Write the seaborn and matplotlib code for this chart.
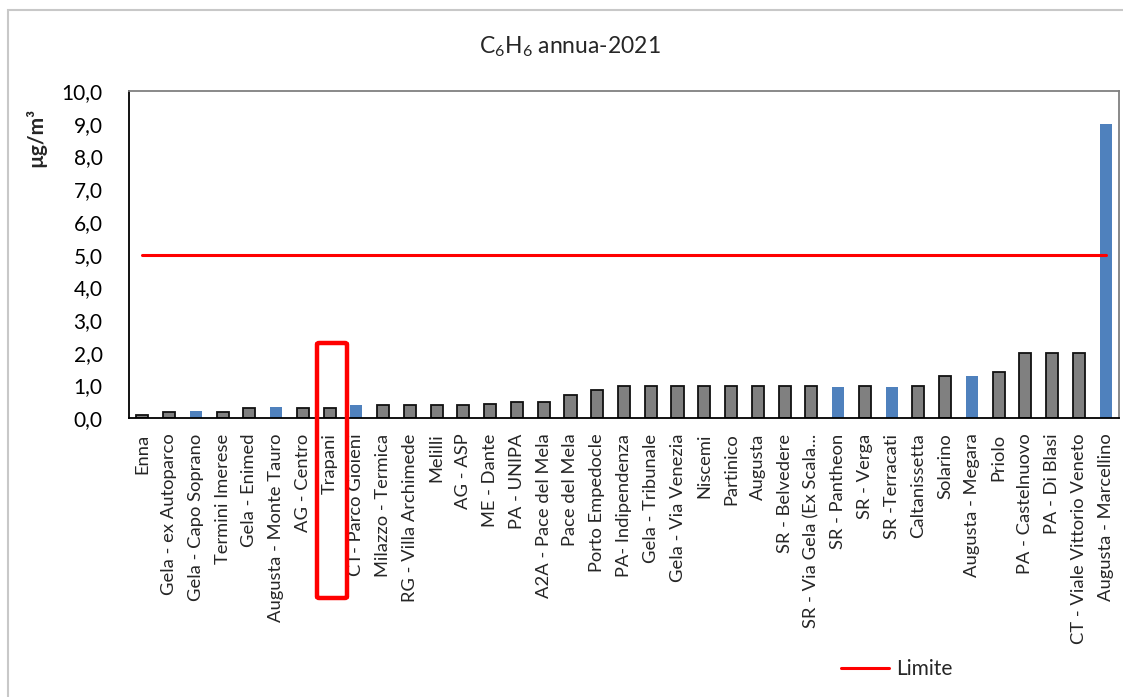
import numpy as np
import pandas as pd
import matplotlib
matplotlib.use("Agg")
import matplotlib.pyplot as plt
from matplotlib.patches import Rectangle, FancyBboxPatch
from matplotlib.ticker import FuncFormatter
import seaborn as sns

# dati (C6H6 media annua 2021, µg/m3)
stazioni = [
    "Enna", "Gela - ex Autoparco", "Gela - Capo Soprano", "Termini Imerese",
    "Gela - Enimed", "Augusta - Monte Tauro", "AG - Centro", "Trapani",
    "CT- Parco Gioieni", "Milazzo - Termica", "RG - Villa Archimede", "Melilli",
    "AG - ASP", "ME - Dante", "PA - UNIPA", "A2A - Pace del Mela",
    "Pace del Mela", "Porto Empedocle", "PA- Indipendenza", "Gela - Tribunale",
    "Gela - Via Venezia", "Niscemi", "Partinico", "Augusta",
    "SR - Belvedere", "SR - Via Gela (Ex Scala...", "SR - Pantheon", "SR - Verga",
    "SR -Terracati", "Caltanissetta", "Solarino", "Augusta - Megara",
    "Priolo", "PA - Castelnuovo", "PA - Di Blasi", "CT - Viale Vittorio Veneto",
    "Augusta - Marcellino",
]
valori = [
    0.1, 0.2, 0.23, 0.2, 0.3, 0.35, 0.3, 0.3,
    0.4, 0.4, 0.4, 0.4, 0.4, 0.45, 0.5, 0.5,
    0.7, 0.85, 1.0, 1.0, 1.0, 1.0, 1.0, 1.0,
    1.0, 1.0, 0.97, 1.0, 0.97, 1.0, 1.3, 1.28,
    1.4, 2.0, 2.0, 2.0, 9.0,
]
# stazioni in blu vs grigio
tipo = [
    "g", "g", "b", "g", "g", "b", "g", "g",
    "b", "g", "g", "g", "g", "g", "g", "g",
    "g", "g", "g", "g", "g", "g", "g", "g",
    "g", "g", "b", "g", "b", "g", "g", "b",
    "g", "g", "g", "g", "b",
]
limite = [5.0] * len(stazioni)

GRIGIO = "#808080"
BLU = "#4F81BD"

sns.set_style("white")
plt.rcParams["font.family"] = ["Lato", "DejaVu Sans"]
plt.rcParams["mathtext.fontset"] = "custom"
plt.rcParams["mathtext.rm"] = "Lato"
plt.rcParams["mathtext.it"] = "Lato"

df = pd.DataFrame({"stazione": stazioni, "valore": valori, "tipo": tipo})

fig = plt.figure(figsize=(11.23, 6.97), dpi=100)
ax = fig.add_axes([129 / 1123, 1 - 418.3 / 697, 990 / 1123, 327.3 / 697])

sns.barplot(data=df, x="stazione", y="valore", hue="tipo", order=stazioni,
            palette={"g": GRIGIO, "b": BLU}, dodge=False, width=0.45,
            legend=False, ax=ax, saturation=1)
for p in ax.patches:
    fc = matplotlib.colors.to_hex(p.get_facecolor())
    if fc.lower() == GRIGIO.lower():
        p.set_edgecolor("#111111")
        p.set_linewidth(1.3)
    else:
        p.set_linewidth(0)

ax.plot(np.arange(len(stazioni)), limite, color="#FF0000", lw=2.2, label="Limite")

ax.set_xlim(-0.5, len(stazioni) - 0.5)
ax.set_ylim(0, 10)
ax.set_yticks(np.arange(0, 11, 1))
ax.yaxis.set_major_formatter(FuncFormatter(lambda v, _: f"{v:.1f}".replace(".", ",")))
ax.set_xlabel("")
ax.set_ylabel("")
ax.tick_params(axis="y", length=0, pad=19, labelsize=15, colors="#000000")
ax.tick_params(axis="x", length=0, pad=11, labelsize=13.2, rotation=90)
for lab in ax.get_xticklabels():
    lab.set_va("top")

for s in ["left", "bottom"]:
    ax.spines[s].set_color("#000000")
    ax.spines[s].set_linewidth(1.3)
for s in ["top", "right"]:
    ax.spines[s].set_color("#808080")
    ax.spines[s].set_linewidth(1.3)

fig.text(570 / 1123, 1 - 47 / 697, "C$_6$H$_6$ annua-2021", ha="center", va="center",
         fontsize=16.5)
fig.text(36 / 1123, 1 - 137 / 697, "µg/m³", rotation=90, ha="center", va="center",
         fontsize=15, fontweight="bold")

ax.legend(loc="center", bbox_to_anchor=(897 / 1123, 1 - 669 / 697),
          bbox_transform=fig.transFigure, frameon=False, fontsize=15,
          handlelength=2.3, handletextpad=0.35)

# riquadro rosso attorno a "Trapani"
fig.patches.append(FancyBboxPatch((317 / 1123, 1 - 598 / 697), 30 / 1123, 255 / 697,
                                  boxstyle="round,pad=0,rounding_size=0.002",
                                  transform=fig.transFigure, fill=False,
                                  edgecolor="#FF0000", lw=3.2, zorder=10))
# bordo del grafico
fig.patches.append(Rectangle((8 / 1123, -0.05), 1.2, 1 - 10 / 697 + 0.05,
                             transform=fig.transFigure, fill=False,
                             edgecolor="#c8c8c8", lw=1.5))

fig.savefig("out.png", dpi=100)
